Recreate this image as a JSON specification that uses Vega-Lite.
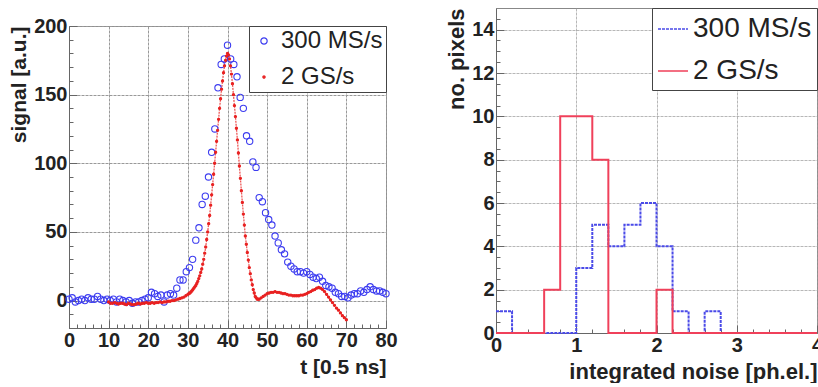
{
  "$schema": "https://vega.github.io/schema/vega-lite/v6.json",
  "background": "white",
  "padding": {"left": 8, "top": 7, "right": 0, "bottom": 0},
  "spacing": 47,
  "datasets": {
    "wave": [
      {"t": 0, "signal": 1, "series": "300 MS/s"}, {"t": 0.8, "signal": 2, "series": "300 MS/s"}, {"t": 1.6, "signal": -1, "series": "300 MS/s"}, {"t": 2.4, "signal": 0, "series": "300 MS/s"}, {"t": 3.2, "signal": 1, "series": "300 MS/s"}, {"t": 4.0, "signal": 0, "series": "300 MS/s"}, {"t": 4.8, "signal": 2, "series": "300 MS/s"}, {"t": 5.6, "signal": 1, "series": "300 MS/s"}, {"t": 6.4, "signal": 1, "series": "300 MS/s"}, {"t": 7.2, "signal": 3, "series": "300 MS/s"},
      {"t": 8.0, "signal": 1, "series": "300 MS/s"}, {"t": 8.8, "signal": 0, "series": "300 MS/s"}, {"t": 9.6, "signal": 1, "series": "300 MS/s"}, {"t": 10.4, "signal": 0, "series": "300 MS/s"}, {"t": 11.2, "signal": 1, "series": "300 MS/s"}, {"t": 12.0, "signal": -1, "series": "300 MS/s"}, {"t": 12.8, "signal": 1, "series": "300 MS/s"}, {"t": 13.6, "signal": 0, "series": "300 MS/s"}, {"t": 14.4, "signal": -1, "series": "300 MS/s"}, {"t": 15.2, "signal": 0, "series": "300 MS/s"},
      {"t": 16.0, "signal": -2, "series": "300 MS/s"}, {"t": 16.8, "signal": -1, "series": "300 MS/s"}, {"t": 17.6, "signal": -1, "series": "300 MS/s"}, {"t": 18.4, "signal": 0, "series": "300 MS/s"}, {"t": 19.2, "signal": 1, "series": "300 MS/s"}, {"t": 20.0, "signal": 2, "series": "300 MS/s"}, {"t": 20.8, "signal": 6, "series": "300 MS/s"}, {"t": 21.6, "signal": 5, "series": "300 MS/s"}, {"t": 22.4, "signal": 3, "series": "300 MS/s"}, {"t": 23.2, "signal": 4, "series": "300 MS/s"},
      {"t": 24.0, "signal": -1, "series": "300 MS/s"}, {"t": 24.8, "signal": 4, "series": "300 MS/s"}, {"t": 25.6, "signal": 5, "series": "300 MS/s"}, {"t": 26.4, "signal": 4, "series": "300 MS/s"}, {"t": 27.2, "signal": 9, "series": "300 MS/s"}, {"t": 28.0, "signal": 15, "series": "300 MS/s"}, {"t": 28.8, "signal": 15, "series": "300 MS/s"}, {"t": 29.6, "signal": 21, "series": "300 MS/s"}, {"t": 30.4, "signal": 24, "series": "300 MS/s"}, {"t": 31.2, "signal": 30, "series": "300 MS/s"},
      {"t": 32.0, "signal": 44, "series": "300 MS/s"}, {"t": 32.8, "signal": 53, "series": "300 MS/s"}, {"t": 33.6, "signal": 70, "series": "300 MS/s"}, {"t": 34.4, "signal": 76, "series": "300 MS/s"}, {"t": 35.2, "signal": 90, "series": "300 MS/s"}, {"t": 36.0, "signal": 108, "series": "300 MS/s"}, {"t": 36.8, "signal": 125, "series": "300 MS/s"}, {"t": 37.6, "signal": 155, "series": "300 MS/s"}, {"t": 38.4, "signal": 172, "series": "300 MS/s"}, {"t": 39.2, "signal": 176, "series": "300 MS/s"},
      {"t": 40.0, "signal": 186, "series": "300 MS/s"}, {"t": 40.8, "signal": 176, "series": "300 MS/s"}, {"t": 41.6, "signal": 172, "series": "300 MS/s"}, {"t": 42.4, "signal": 163, "series": "300 MS/s"}, {"t": 43.2, "signal": 148, "series": "300 MS/s"}, {"t": 44.0, "signal": 140, "series": "300 MS/s"}, {"t": 44.8, "signal": 120, "series": "300 MS/s"}, {"t": 45.6, "signal": 116, "series": "300 MS/s"}, {"t": 46.4, "signal": 101, "series": "300 MS/s"}, {"t": 47.2, "signal": 97, "series": "300 MS/s"},
      {"t": 48.0, "signal": 75, "series": "300 MS/s"}, {"t": 48.8, "signal": 72, "series": "300 MS/s"}, {"t": 49.6, "signal": 64, "series": "300 MS/s"}, {"t": 50.4, "signal": 59, "series": "300 MS/s"}, {"t": 51.2, "signal": 55, "series": "300 MS/s"}, {"t": 52.0, "signal": 47, "series": "300 MS/s"}, {"t": 52.8, "signal": 42, "series": "300 MS/s"}, {"t": 53.6, "signal": 37, "series": "300 MS/s"}, {"t": 54.4, "signal": 34, "series": "300 MS/s"}, {"t": 55.2, "signal": 28, "series": "300 MS/s"},
      {"t": 56.0, "signal": 25, "series": "300 MS/s"}, {"t": 56.8, "signal": 23, "series": "300 MS/s"}, {"t": 57.6, "signal": 21, "series": "300 MS/s"}, {"t": 58.4, "signal": 21, "series": "300 MS/s"}, {"t": 59.2, "signal": 20, "series": "300 MS/s"}, {"t": 60.0, "signal": 21, "series": "300 MS/s"}, {"t": 60.8, "signal": 19, "series": "300 MS/s"}, {"t": 61.6, "signal": 17, "series": "300 MS/s"}, {"t": 62.4, "signal": 16, "series": "300 MS/s"}, {"t": 63.2, "signal": 17, "series": "300 MS/s"},
      {"t": 64.0, "signal": 14, "series": "300 MS/s"}, {"t": 64.8, "signal": 11, "series": "300 MS/s"}, {"t": 65.6, "signal": 10, "series": "300 MS/s"}, {"t": 66.4, "signal": 9, "series": "300 MS/s"}, {"t": 67.2, "signal": 6, "series": "300 MS/s"}, {"t": 68.0, "signal": 5, "series": "300 MS/s"}, {"t": 68.8, "signal": 3, "series": "300 MS/s"}, {"t": 69.6, "signal": 3, "series": "300 MS/s"}, {"t": 70.4, "signal": 2, "series": "300 MS/s"}, {"t": 71.2, "signal": 4, "series": "300 MS/s"},
      {"t": 72.0, "signal": 5, "series": "300 MS/s"}, {"t": 72.8, "signal": 5, "series": "300 MS/s"}, {"t": 73.6, "signal": 7, "series": "300 MS/s"}, {"t": 74.4, "signal": 6, "series": "300 MS/s"}, {"t": 75.2, "signal": 8, "series": "300 MS/s"}, {"t": 76.0, "signal": 10, "series": "300 MS/s"}, {"t": 76.8, "signal": 8, "series": "300 MS/s"}, {"t": 77.6, "signal": 7, "series": "300 MS/s"}, {"t": 78.4, "signal": 7, "series": "300 MS/s"}, {"t": 79.2, "signal": 6, "series": "300 MS/s"}, {"t": 80.0, "signal": 5, "series": "300 MS/s"},
      {"t": 10, "signal": -1, "series": "2 GS/s"}, {"t": 10.5, "signal": -2, "series": "2 GS/s"}, {"t": 11, "signal": -2, "series": "2 GS/s"}, {"t": 11.5, "signal": -1.5, "series": "2 GS/s"}, {"t": 12, "signal": -2, "series": "2 GS/s"}, {"t": 12.5, "signal": -2.5, "series": "2 GS/s"}, {"t": 13, "signal": -2, "series": "2 GS/s"}, {"t": 13.5, "signal": -2, "series": "2 GS/s"}, {"t": 14, "signal": -2.5, "series": "2 GS/s"}, {"t": 14.5, "signal": -3, "series": "2 GS/s"},
      {"t": 15, "signal": -2, "series": "2 GS/s"}, {"t": 15.5, "signal": -2.5, "series": "2 GS/s"}, {"t": 16, "signal": -3, "series": "2 GS/s"}, {"t": 16.5, "signal": -3, "series": "2 GS/s"}, {"t": 17, "signal": -2.5, "series": "2 GS/s"}, {"t": 17.5, "signal": -2, "series": "2 GS/s"}, {"t": 18, "signal": -2.5, "series": "2 GS/s"}, {"t": 18.5, "signal": -2, "series": "2 GS/s"}, {"t": 19, "signal": -2, "series": "2 GS/s"}, {"t": 19.5, "signal": -1.5, "series": "2 GS/s"},
      {"t": 20, "signal": -2, "series": "2 GS/s"}, {"t": 20.5, "signal": -2, "series": "2 GS/s"}, {"t": 21, "signal": -1.5, "series": "2 GS/s"}, {"t": 21.5, "signal": -2, "series": "2 GS/s"}, {"t": 22, "signal": -1.5, "series": "2 GS/s"}, {"t": 22.5, "signal": -1.5, "series": "2 GS/s"}, {"t": 23, "signal": -1, "series": "2 GS/s"}, {"t": 23.5, "signal": -1.5, "series": "2 GS/s"}, {"t": 24, "signal": -1, "series": "2 GS/s"}, {"t": 24.5, "signal": -1, "series": "2 GS/s"},
      {"t": 25, "signal": -0.5, "series": "2 GS/s"}, {"t": 25.5, "signal": -0.5, "series": "2 GS/s"}, {"t": 26, "signal": 0, "series": "2 GS/s"}, {"t": 26.5, "signal": 0, "series": "2 GS/s"}, {"t": 27, "signal": 0.5, "series": "2 GS/s"}, {"t": 27.5, "signal": 1, "series": "2 GS/s"}, {"t": 28, "signal": 1.5, "series": "2 GS/s"}, {"t": 28.5, "signal": 2, "series": "2 GS/s"}, {"t": 29, "signal": 2.5, "series": "2 GS/s"}, {"t": 29.5, "signal": 3.5, "series": "2 GS/s"},
      {"t": 30, "signal": 4.5, "series": "2 GS/s"}, {"t": 30.25, "signal": 5, "series": "2 GS/s"}, {"t": 30.5, "signal": 5.5, "series": "2 GS/s"}, {"t": 30.75, "signal": 6.2, "series": "2 GS/s"}, {"t": 31, "signal": 7, "series": "2 GS/s"}, {"t": 31.25, "signal": 8, "series": "2 GS/s"}, {"t": 31.5, "signal": 9, "series": "2 GS/s"}, {"t": 31.75, "signal": 10, "series": "2 GS/s"}, {"t": 32, "signal": 11, "series": "2 GS/s"}, {"t": 32.25, "signal": 12.5, "series": "2 GS/s"},
      {"t": 32.5, "signal": 14, "series": "2 GS/s"}, {"t": 32.75, "signal": 16, "series": "2 GS/s"}, {"t": 33, "signal": 18, "series": "2 GS/s"}, {"t": 33.25, "signal": 20.5, "series": "2 GS/s"}, {"t": 33.5, "signal": 23, "series": "2 GS/s"}, {"t": 33.75, "signal": 26.5, "series": "2 GS/s"}, {"t": 34, "signal": 30, "series": "2 GS/s"}, {"t": 34.25, "signal": 34.5, "series": "2 GS/s"}, {"t": 34.5, "signal": 39, "series": "2 GS/s"}, {"t": 34.75, "signal": 44.5, "series": "2 GS/s"},
      {"t": 35, "signal": 50, "series": "2 GS/s"}, {"t": 35.25, "signal": 56, "series": "2 GS/s"}, {"t": 35.5, "signal": 62, "series": "2 GS/s"}, {"t": 35.75, "signal": 69.5, "series": "2 GS/s"}, {"t": 36, "signal": 77, "series": "2 GS/s"}, {"t": 36.25, "signal": 84.5, "series": "2 GS/s"}, {"t": 36.5, "signal": 92, "series": "2 GS/s"}, {"t": 36.75, "signal": 100, "series": "2 GS/s"}, {"t": 37, "signal": 108, "series": "2 GS/s"}, {"t": 37.25, "signal": 116, "series": "2 GS/s"},
      {"t": 37.5, "signal": 124, "series": "2 GS/s"}, {"t": 37.75, "signal": 132, "series": "2 GS/s"}, {"t": 38, "signal": 140, "series": "2 GS/s"}, {"t": 38.25, "signal": 147, "series": "2 GS/s"}, {"t": 38.5, "signal": 154, "series": "2 GS/s"}, {"t": 38.75, "signal": 160, "series": "2 GS/s"}, {"t": 39, "signal": 166, "series": "2 GS/s"}, {"t": 39.25, "signal": 171, "series": "2 GS/s"}, {"t": 39.5, "signal": 175, "series": "2 GS/s"}, {"t": 39.75, "signal": 178, "series": "2 GS/s"},
      {"t": 40, "signal": 180, "series": "2 GS/s"}, {"t": 40.25, "signal": 179, "series": "2 GS/s"}, {"t": 40.5, "signal": 176, "series": "2 GS/s"}, {"t": 40.75, "signal": 171, "series": "2 GS/s"}, {"t": 41, "signal": 165, "series": "2 GS/s"}, {"t": 41.25, "signal": 158, "series": "2 GS/s"}, {"t": 41.5, "signal": 150, "series": "2 GS/s"}, {"t": 41.75, "signal": 142, "series": "2 GS/s"}, {"t": 42, "signal": 134, "series": "2 GS/s"}, {"t": 42.25, "signal": 125.5, "series": "2 GS/s"},
      {"t": 42.5, "signal": 117, "series": "2 GS/s"}, {"t": 42.75, "signal": 107.5, "series": "2 GS/s"}, {"t": 43, "signal": 98, "series": "2 GS/s"}, {"t": 43.25, "signal": 89, "series": "2 GS/s"}, {"t": 43.5, "signal": 80, "series": "2 GS/s"}, {"t": 43.75, "signal": 71.5, "series": "2 GS/s"}, {"t": 44, "signal": 63, "series": "2 GS/s"}, {"t": 44.25, "signal": 55, "series": "2 GS/s"}, {"t": 44.5, "signal": 47, "series": "2 GS/s"}, {"t": 44.75, "signal": 41, "series": "2 GS/s"},
      {"t": 45, "signal": 35, "series": "2 GS/s"}, {"t": 45.25, "signal": 29.5, "series": "2 GS/s"}, {"t": 45.5, "signal": 24, "series": "2 GS/s"}, {"t": 45.75, "signal": 19.5, "series": "2 GS/s"}, {"t": 46, "signal": 15, "series": "2 GS/s"}, {"t": 46.25, "signal": 11.5, "series": "2 GS/s"}, {"t": 46.5, "signal": 8, "series": "2 GS/s"}, {"t": 46.75, "signal": 5.5, "series": "2 GS/s"}, {"t": 47, "signal": 3, "series": "2 GS/s"}, {"t": 47.25, "signal": 2, "series": "2 GS/s"},
      {"t": 47.5, "signal": 1, "series": "2 GS/s"}, {"t": 47.75, "signal": 1, "series": "2 GS/s"}, {"t": 48, "signal": 1, "series": "2 GS/s"}, {"t": 48.5, "signal": 2, "series": "2 GS/s"}, {"t": 49, "signal": 3, "series": "2 GS/s"}, {"t": 49.5, "signal": 4, "series": "2 GS/s"},
      {"t": 50, "signal": 5, "series": "2 GS/s"}, {"t": 50.5, "signal": 5.5, "series": "2 GS/s"}, {"t": 51, "signal": 6, "series": "2 GS/s"}, {"t": 51.5, "signal": 6, "series": "2 GS/s"}, {"t": 52, "signal": 6.5, "series": "2 GS/s"}, {"t": 52.5, "signal": 6, "series": "2 GS/s"}, {"t": 53, "signal": 6, "series": "2 GS/s"}, {"t": 53.5, "signal": 5.5, "series": "2 GS/s"}, {"t": 54, "signal": 5, "series": "2 GS/s"}, {"t": 54.5, "signal": 5, "series": "2 GS/s"},
      {"t": 55, "signal": 4.5, "series": "2 GS/s"}, {"t": 55.5, "signal": 4, "series": "2 GS/s"}, {"t": 56, "signal": 4, "series": "2 GS/s"}, {"t": 56.5, "signal": 3.5, "series": "2 GS/s"}, {"t": 57, "signal": 3.5, "series": "2 GS/s"}, {"t": 57.5, "signal": 3.5, "series": "2 GS/s"}, {"t": 58, "signal": 3.5, "series": "2 GS/s"}, {"t": 58.5, "signal": 4, "series": "2 GS/s"}, {"t": 59, "signal": 4, "series": "2 GS/s"}, {"t": 59.5, "signal": 4.5, "series": "2 GS/s"},
      {"t": 60, "signal": 5, "series": "2 GS/s"}, {"t": 60.5, "signal": 6, "series": "2 GS/s"}, {"t": 61, "signal": 6.5, "series": "2 GS/s"}, {"t": 61.5, "signal": 7.5, "series": "2 GS/s"}, {"t": 62, "signal": 8, "series": "2 GS/s"}, {"t": 62.5, "signal": 9, "series": "2 GS/s"}, {"t": 63, "signal": 9.5, "series": "2 GS/s"}, {"t": 63.5, "signal": 9, "series": "2 GS/s"}, {"t": 64, "signal": 8, "series": "2 GS/s"}, {"t": 64.5, "signal": 6.5, "series": "2 GS/s"},
      {"t": 65, "signal": 4.5, "series": "2 GS/s"}, {"t": 65.5, "signal": 2.5, "series": "2 GS/s"}, {"t": 66, "signal": 0.5, "series": "2 GS/s"}, {"t": 66.5, "signal": -1.5, "series": "2 GS/s"}, {"t": 67, "signal": -3.5, "series": "2 GS/s"}, {"t": 67.5, "signal": -5.5, "series": "2 GS/s"}, {"t": 68, "signal": -7, "series": "2 GS/s"}, {"t": 68.5, "signal": -9, "series": "2 GS/s"}, {"t": 69, "signal": -11, "series": "2 GS/s"}, {"t": 69.5, "signal": -12.5, "series": "2 GS/s"}, {"t": 70, "signal": -14, "series": "2 GS/s"}
    ],
    "hist": [
      {"x": 0, "n": 1, "series": "300 MS/s"}, {"x": 0.2, "n": 0, "series": "300 MS/s"}, {"x": 0.4, "n": 0, "series": "300 MS/s"}, {"x": 0.6, "n": 0, "series": "300 MS/s"}, {"x": 0.8, "n": 0, "series": "300 MS/s"}, {"x": 1.0, "n": 3, "series": "300 MS/s"}, {"x": 1.2, "n": 5, "series": "300 MS/s"}, {"x": 1.4, "n": 4, "series": "300 MS/s"}, {"x": 1.6, "n": 5, "series": "300 MS/s"}, {"x": 1.8, "n": 6, "series": "300 MS/s"}, {"x": 2.0, "n": 4, "series": "300 MS/s"}, {"x": 2.2, "n": 1, "series": "300 MS/s"}, {"x": 2.4, "n": 0, "series": "300 MS/s"}, {"x": 2.6, "n": 1, "series": "300 MS/s"}, {"x": 2.8, "n": 0, "series": "300 MS/s"}, {"x": 4.0, "n": 0, "series": "300 MS/s"},
      {"x": 0, "n": 0, "series": "2 GS/s"}, {"x": 0.6, "n": 2, "series": "2 GS/s"}, {"x": 0.8, "n": 10, "series": "2 GS/s"}, {"x": 1.0, "n": 10, "series": "2 GS/s"}, {"x": 1.2, "n": 8, "series": "2 GS/s"}, {"x": 1.4, "n": 0, "series": "2 GS/s"}, {"x": 2.0, "n": 2, "series": "2 GS/s"}, {"x": 2.2, "n": 0, "series": "2 GS/s"}, {"x": 4.0, "n": 0, "series": "2 GS/s"}
    ]
  },
  "config": {
    "view": {"stroke": "#888", "strokeWidth": 1},
    "font": "Liberation Sans",
    "axis": {
      "labelFont": "Liberation Sans", "labelFontWeight": "bold", "labelFontSize": 20, "labelColor": "#222",
      "titleFont": "Liberation Sans", "titleFontWeight": "bold", "titleFontSize": 21, "titleColor": "#222",
      "titleAnchor": "end", "domainColor": "#666", "tickColor": "#666", "gridColor": "#999", "gridDash": [3, 1],
      "labelFlush": false, "labelOverlap": false, "labelBound": false
    },
    "legend": {"labelFont": "Liberation Sans", "labelColor": "#222", "strokeColor": "#444", "fillColor": "white"}
  },
  "resolve": {
    "scale": {"x": "independent", "y": "independent", "color": "independent", "stroke": "independent", "fill": "independent", "size": "independent", "strokeDash": "independent"},
    "legend": {"color": "independent", "stroke": "independent", "fill": "independent", "size": "independent", "strokeDash": "independent"}
  },
  "hconcat": [
    {
      "spacing": 6,
      "resolve": {
        "scale": {"stroke": "independent", "fill": "independent", "size": "independent"},
        "legend": {"stroke": "independent", "fill": "independent", "size": "independent"}
      },
      "vconcat": [
        {
          "width": 317,
          "height": 1,
          "view": {"stroke": null},
          "data": {"values": []},
          "mark": {"type": "point"},
          "encoding": {}
        },
        {
          "width": 317,
          "height": 302,
          "data": {"name": "wave"},
          "encoding": {
            "x": {
              "field": "t", "type": "quantitative", "scale": {"domain": [0, 80], "nice": false, "zero": false},
              "axis": {
                "title": "t [0.5 ns]", "titlePadding": 2,
                "values": [0, 2, 4, 6, 8, 10, 12, 14, 16, 18, 20, 22, 24, 26, 28, 30, 32, 34, 36, 38, 40, 42, 44, 46, 48, 50, 52, 54, 56, 58, 60, 62, 64, 66, 68, 70, 72, 74, 76, 78, 80],
                "labelExpr": "datum.value % 10 === 0 ? datum.label : ''",
                "tickSize": {"condition": {"test": "datum.value % 10 === 0", "value": -8}, "value": -4},
                "gridOpacity": {"condition": {"test": "datum.value % 10 === 0", "value": 1}, "value": 0},
                "labelPadding": 10
              }
            },
            "y": {
              "field": "signal", "type": "quantitative", "scale": {"domain": [-20, 200], "nice": false, "zero": false},
              "axis": {
                "title": "signal [a.u.]", "titlePadding": 4,
                "values": [-20, -10, 0, 10, 20, 30, 40, 50, 60, 70, 80, 90, 100, 110, 120, 130, 140, 150, 160, 170, 180, 190, 200],
                "labelExpr": "datum.value % 50 === 0 ? datum.label : ''",
                "tickSize": {"condition": {"test": "datum.value % 50 === 0", "value": -8}, "value": -4},
                "gridOpacity": {"condition": {"test": "datum.value % 50 === 0", "value": 1}, "value": 0},
                "labelPadding": 10
              }
            }
          },
          "layer": [
            {
              "transform": [{"filter": "datum.series === '2 GS/s'"}],
              "mark": {"type": "line", "color": "#e82020", "strokeWidth": 1.3, "opacity": 0.75, "strokeDash": [2, 1]}
            },
            {
              "mark": {"type": "point", "strokeWidth": 1.1, "opacity": 1},
              "encoding": {
                "stroke": {
                  "field": "series", "type": "nominal",
                  "scale": {"domain": ["300 MS/s", "2 GS/s"], "range": ["#3c3cf0", "#e82020"]},
                  "legend": {"title": null, "orient": "top-right", "offset": 0, "padding": 3, "labelFontSize": 24, "labelOffset": 5, "rowPadding": 12, "symbolStrokeWidth": 1.2}
                },
                "fill": {
                  "field": "series", "type": "nominal",
                  "scale": {"domain": ["300 MS/s", "2 GS/s"], "range": ["transparent", "#e82020"]},
                  "legend": {"title": null, "orient": "top-right", "offset": 0, "padding": 3, "labelFontSize": 24, "labelOffset": 5, "rowPadding": 12, "symbolStrokeWidth": 1.2}
                },
                "size": {
                  "field": "series", "type": "nominal",
                  "scale": {"domain": ["300 MS/s", "2 GS/s"], "range": [40, 5]},
                  "legend": {"title": null, "orient": "top-right", "offset": 0, "padding": 3, "labelFontSize": 24, "labelOffset": 5, "rowPadding": 12, "symbolStrokeWidth": 1.2}
                }
              }
            }
          ]
        }
      ]
    },
    {
      "width": 321,
      "height": 325,
      "data": {"name": "hist"},
      "mark": {"type": "line", "interpolate": "step-after", "strokeWidth": 2},
      "encoding": {
        "x": {
          "field": "x", "type": "quantitative", "scale": {"domain": [0, 4], "nice": false, "zero": false},
          "axis": {
            "title": "integrated noise [ph.el.]", "titleFontSize": 22, "titlePadding": 2,
            "values": [0, 0.2, 0.4, 0.6, 0.8, 1, 1.2, 1.4, 1.6, 1.8, 2, 2.2, 2.4, 2.6, 2.8, 3, 3.2, 3.4, 3.6, 3.8, 4],
            "labelExpr": "datum.value % 1 === 0 ? format(datum.value, 'd') : ''",
            "tickSize": {"condition": {"test": "datum.value % 1 === 0", "value": -8}, "value": -4},
            "gridOpacity": {"condition": {"test": "datum.value % 1 === 0", "value": 0.7}, "value": 0},
            "labelPadding": 10
          }
        },
        "y": {
          "field": "n", "type": "quantitative", "scale": {"domain": [0, 15], "nice": false, "zero": false},
          "axis": {
            "title": "no. pixels", "titleFontSize": 22, "titlePadding": 3,
            "values": [0, 0.5, 1, 1.5, 2, 2.5, 3, 3.5, 4, 4.5, 5, 5.5, 6, 6.5, 7, 7.5, 8, 8.5, 9, 9.5, 10, 10.5, 11, 11.5, 12, 12.5, 13, 13.5, 14, 14.5],
            "labelExpr": "datum.value % 2 === 0 ? format(datum.value, 'd') : ''",
            "tickSize": {"condition": {"test": "datum.value % 2 === 0", "value": -8}, "value": -4},
            "gridOpacity": {"condition": {"test": "datum.value % 2 === 0 && datum.value > 0", "value": 0.7}, "value": 0},
            "labelPadding": 10
          }
        },
        "color": {
          "field": "series", "type": "nominal",
          "scale": {"domain": ["300 MS/s", "2 GS/s"], "range": ["#4a4ae8", "#f0405a"]},
          "legend": {"title": null, "orient": "top-right", "offset": 0, "padding": 5, "labelFontSize": 28, "labelOffset": 4, "rowPadding": 12, "symbolType": "stroke", "symbolSize": 900, "symbolStrokeWidth": 1.5}
        },
        "strokeDash": {
          "field": "series", "type": "nominal",
          "scale": {"domain": ["300 MS/s", "2 GS/s"], "range": [[3, 1], [1, 0]]},
          "legend": {"title": null, "orient": "top-right", "offset": 0, "padding": 5, "labelFontSize": 28, "labelOffset": 4, "rowPadding": 12, "symbolType": "stroke", "symbolSize": 900, "symbolStrokeWidth": 1.5}
        }
      }
    }
  ]
}
